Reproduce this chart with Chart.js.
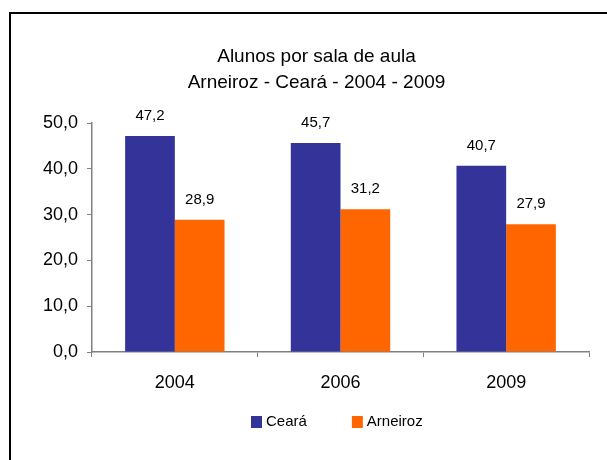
<!DOCTYPE html>
<html>
<head>
<meta charset="utf-8">
<script src="https://cdn.jsdelivr.net/npm/chart.js@4/dist/chart.umd.min.js"></script>
<style>
    body { margin: 0; background: #fff; }
    #wrap { position: relative; width: 607px; height: 460px; }
    #frame {
        position: absolute; left: 9px; top: 12px; width: 620px; height: 470px;
        border-left: 2px solid #000; border-top: 2px solid #000;
    }
    canvas { position: absolute; left: 0; top: 0; }
</style>
</head>
<body>
<div id="wrap">
    <div id="frame"></div>
    <canvas id="barChart" width="607" height="460"></canvas>
</div>
<script>
const years = ["2004", "2006", "2009"];
const cearaValues = [47.2, 45.7, 40.7];
const arneirozValues = [28.9, 31.2, 27.9];
const titleLines = ["Alunos por sala de aula", "Arneiroz - Ceará - 2004 - 2009"];

const fontFamily = "'Liberation Sans', Arial, sans-serif";
const axisGray = "#808080";

function commaFormat(v) {
    return Number(v).toFixed(1).replace(".", ",");
}

// Value labels above each bar
const barLabels = {
    id: "barLabels",
    afterDatasetsDraw(chart) {
        const ctx = chart.ctx;
        ctx.save();
        ctx.font = "15px " + fontFamily;
        ctx.fillStyle = "#000";
        ctx.textAlign = "center";
        ctx.textBaseline = "middle";
        chart.data.datasets.forEach((ds, i) => {
            chart.getDatasetMeta(i).data.forEach((bar, j) => {
                ctx.fillText(commaFormat(ds.data[j]), bar.x, bar.y - 20);
            });
        });
        ctx.restore();
    },
};

// Legend below the axis, drawn by hand so it can sit off-centre like the original
const bottomLegend = {
    id: "bottomLegend",
    afterLayout(chart) {
        // title in the original is centred a bit right of the plot
        chart.titleBlock.left += 9;
        chart.titleBlock.right += 9;
    },
    afterDraw(chart) {
        const ctx = chart.ctx;
        ctx.save();
        ctx.font = "15px " + fontFamily;
        ctx.textBaseline = "middle";
        ctx.textAlign = "left";
        let x = 251;
        const y = 422;
        chart.data.datasets.forEach((ds) => {
            ctx.fillStyle = ds.backgroundColor;
            ctx.fillRect(x, y - 6, 11, 12);
            ctx.fillStyle = "#000";
            ctx.fillText(ds.label, x + 15, y);
            x += 15 + ctx.measureText(ds.label).width + 45;
        });
        ctx.restore();
    },
};

document.addEventListener("DOMContentLoaded", function () {
    const ctx = document.getElementById("barChart").getContext("2d");
    new Chart(ctx, {
        type: "bar",
        data: {
            labels: years,
            datasets: [
                { label: "Ceará", data: cearaValues, backgroundColor: "#333399" },
                { label: "Arneiroz", data: arneirozValues, backgroundColor: "#FF6600" },
            ],
        },
        options: {
            responsive: false,
            animation: false,
            categoryPercentage: 0.6,
            barPercentage: 1.0,
            layout: {
                padding: { left: 26, right: 18, top: 0, bottom: 0 },
            },
            scales: {
                x: {
                    grid: {
                        offset: true,
                        drawOnChartArea: false,
                        color: axisGray,
                        tickLength: 5,
                    },
                    border: { color: axisGray, width: 1.5 },
                    ticks: {
                        color: "#000",
                        font: { family: fontFamily, size: 18 },
                        padding: 15,
                    },
                    afterFit(scale) { scale.height = 108; },
                },
                y: {
                    min: 0,
                    max: 50,
                    grid: {
                        drawOnChartArea: false,
                        color: axisGray,
                        tickLength: 5,
                    },
                    border: { color: axisGray, width: 1.5 },
                    ticks: {
                        stepSize: 10,
                        color: "#000",
                        font: { family: fontFamily, size: 18 },
                        padding: 9,
                        callback: (v) => commaFormat(v),
                    },
                    afterFit(scale) { scale.width = 66; },
                },
            },
            plugins: {
                title: {
                    display: true,
                    text: titleLines,
                    color: "#000",
                    font: { family: fontFamily, size: 19, weight: "normal", lineHeight: 1.4 },
                    padding: { top: 43, bottom: 27 },
                },
                legend: { display: false },
                tooltip: { enabled: false },
            },
        },
        plugins: [barLabels, bottomLegend],
    });
});
</script>
</body>
</html>
